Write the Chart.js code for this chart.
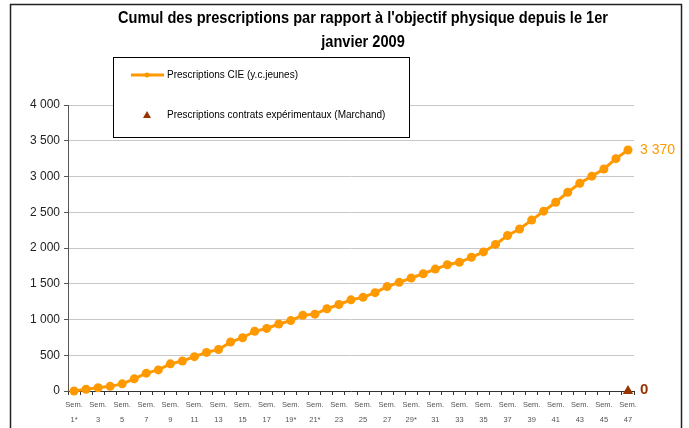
<!DOCTYPE html>
<html>
<head>
<meta charset="utf-8">
<script src="https://cdn.jsdelivr.net/npm/chart.js@4.4.1/dist/chart.umd.min.js"></script>
<style>
  html, body { margin: 0; padding: 0; background: #fff; }
  #wrap { width: 689px; height: 428px; }
</style>
</head>
<body>
<div id="wrap"><canvas id="chart" width="689" height="428"></canvas></div>
<script>
// Semaines (les * viennent du graphique d'origine)
const weeks = [
  "1*", "2", "3", "4", "5", "6", "7", "8", "9", "10",
  "11", "12", "13", "14", "15", "16", "17", "18", "19*", "20",
  "21*", "22", "23", "24", "25", "26", "27", "28", "29*", "30",
  "31", "32", "33", "34", "35", "36", "37", "38", "39", "40",
  "41", "42", "43", "44", "45", "46", "47"
];

// Prescriptions CIE (y.c.jeunes), cumul
const cieValues = [
  0, 25, 45, 65, 100, 170, 250, 295, 380, 420,
  480, 540, 580, 685, 745, 835, 875, 937, 985, 1060,
  1075, 1150, 1210, 1275, 1310, 1375, 1460, 1520, 1580, 1640,
  1705, 1765, 1800, 1870, 1945, 2050, 2175, 2265, 2390, 2515,
  2640, 2780, 2905, 3005, 3105, 3250, 3370
];

// Prescriptions contrats expérimentaux (Marchand)
const marchandValues = [
  null, null, null, null, null, null, null, null, null, null,
  null, null, null, null, null, null, null, null, null, null,
  null, null, null, null, null, null, null, null, null, null,
  null, null, null, null, null, null, null, null, null, null,
  null, null, null, null, null, null, 0
];

const titleLines = [
  "Cumul des prescriptions par rapport à l'objectif physique depuis le 1er",
  "janvier 2009"
];
const seriesNames = [
  "Prescriptions CIE (y.c.jeunes)",
  "Prescriptions contrats expérimentaux (Marchand)"
];

const ORANGE = "#FF9900";
const BROWN = "#993300";
const FONT = "'Liberation Sans', Arial, sans-serif";

function fmt(v) {
  return String(v).replace(/\B(?=(\d{3})+(?!\d))/g, " ");
}

// cadre, fond et titre (police étroite simulée avec maxWidth)
const framePlugin = {
  id: "frame",
  beforeDraw(chart) {
    const c = chart.ctx;
    c.save();
    c.fillStyle = "#fff";
    c.fillRect(0, 0, chart.width, chart.height);
    c.strokeStyle = "#222";
    c.lineWidth = 1.5;
    c.strokeRect(10.5, 4.5, 671, 440);

    c.fillStyle = "#000";
    c.font = "bold 16px " + FONT;
    c.textAlign = "center";
    c.textBaseline = "middle";
    c.fillText(titleLines[0], 363, 19, 490);
    const w2 = c.measureText(titleLines[1]).width * 490 / c.measureText(titleLines[0]).width;
    c.fillText(titleLines[1], 363, 43, w2);
    c.restore();
  }
};

// légende encadrée + étiquettes de fin de série
const overlayPlugin = {
  id: "overlay",
  afterDraw(chart) {
    const c = chart.ctx;
    c.save();

    // boîte de légende
    c.fillStyle = "#fff";
    c.fillRect(113, 57, 296, 80);
    c.strokeStyle = "#000";
    c.lineWidth = 1;
    c.strokeRect(113.5, 57.5, 296, 80);

    c.strokeStyle = ORANGE;
    c.lineWidth = 3;
    c.beginPath();
    c.moveTo(131, 75);
    c.lineTo(164, 75);
    c.stroke();
    c.fillStyle = ORANGE;
    c.beginPath();
    c.arc(147, 75, 2.5, 0, Math.PI * 2);
    c.fill();

    c.fillStyle = BROWN;
    c.beginPath();
    c.moveTo(147, 111);
    c.lineTo(151, 118);
    c.lineTo(143, 118);
    c.closePath();
    c.fill();

    c.fillStyle = "#000";
    c.font = "10px " + FONT;
    c.textAlign = "left";
    c.textBaseline = "middle";
    c.fillText(seriesNames[0], 167, 75);
    c.fillText(seriesNames[1], 167, 115);

    // valeurs en bout de courbe
    const m0 = chart.getDatasetMeta(0).data;
    const last0 = m0[m0.length - 1];
    c.fillStyle = ORANGE;
    c.font = "14px " + FONT;
    c.fillText(fmt(cieValues[cieValues.length - 1]), last0.x + 12, last0.y);

    const m1 = chart.getDatasetMeta(1).data;
    const last1 = m1[m1.length - 1];
    c.fillStyle = BROWN;
    c.font = "bold 15px " + FONT;
    c.fillText(fmt(marchandValues[marchandValues.length - 1]), last1.x + 12, last1.y - 1);

    c.restore();
  }
};

const ctx = document.getElementById("chart").getContext("2d");
new Chart(ctx, {
  type: "line",
  data: {
    labels: weeks,
    datasets: [
      {
        label: seriesNames[0],
        data: cieValues,
        borderColor: ORANGE,
        backgroundColor: ORANGE,
        borderWidth: 3,
        pointRadius: 4.5,
        pointHoverRadius: 4.5,
        pointBorderWidth: 0,
        tension: 0,
        clip: false
      },
      {
        label: seriesNames[1],
        data: marchandValues,
        showLine: false,
        pointStyle: "triangle",
        pointRadius: 6,
        pointBorderWidth: 0,
        backgroundColor: BROWN,
        borderColor: BROWN,
        clip: false
      }
    ]
  },
  options: {
    responsive: false,
    animation: false,
    layout: { padding: { left: 0, right: 55, top: 105, bottom: 0 } },
    plugins: {
      legend: { display: false },
      tooltip: { enabled: false },
      title: { display: false }
    },
    scales: {
      x: {
        offset: true,
        afterFit: (s) => { s.height = 37; },
        grid: { offset: true, drawOnChartArea: false, tickLength: 4, color: "#333" },
        border: { color: "#333", width: 1 },
        ticks: {
          autoSkip: false,
          maxRotation: 0,
          minRotation: 0,
          padding: 2,
          color: "#555",
          font: { family: FONT, size: 7.5, lineHeight: 2 },
          callback: (v, i) => (i % 2 === 0 ? ["Sem.", weeks[i]] : "")
        }
      },
      y: {
        min: 0,
        max: 4000,
        afterFit: (s) => { s.width = 68; },
        grid: {
          color: (c) => (c.tick && c.tick.value === 0 ? "rgba(0,0,0,0)" : "#c8c8c8"),
          tickColor: "#555",
          tickLength: 4
        },
        border: { color: "#555", width: 1 },
        ticks: {
          stepSize: 500,
          padding: 4,
          color: "#222",
          font: { family: FONT, size: 12 },
          callback: (v) => fmt(v)
        }
      }
    }
  },
  plugins: [framePlugin, overlayPlugin]
});
</script>
</body>
</html>
